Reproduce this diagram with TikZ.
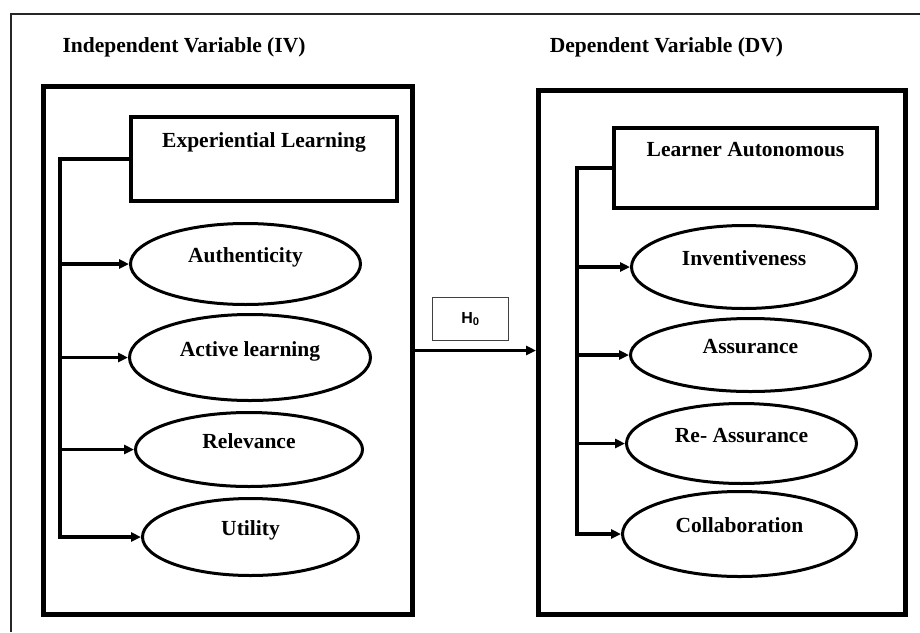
\documentclass[tikz,border=0pt]{standalone}
\usepackage{fontspec}
\setmainfont{Liberation Serif}
\newfontfamily\hzerofont{Liberation Sans}
\usetikzlibrary{arrows.meta,positioning,shapes.geometric}

\begin{document}
\begin{tikzpicture}[
    x=1pt,y=-1pt,
    title/.style={font=\fontsize{21.5}{24}\selectfont\bfseries},
    frame/.style={draw=black!85,line width=1.2pt},
    varbox/.style={draw,line width=5pt},
    headbox/.style={draw,line width=4pt,font=\fontsize{21.5}{24}\selectfont\bfseries,
      text height=14pt,text depth=38pt,inner sep=4pt},
    oval/.style={ellipse,draw,line width=3pt,font=\fontsize{21.5}{24}\selectfont\bfseries,
      text height=14pt,text depth=17pt,inner sep=2pt},
    hyp/.style={draw=black!75,line width=1.3pt,minimum width=76pt,minimum height=43pt,
      font=\hzerofont\bfseries\fontsize{16}{18}\selectfont},
    arrow/.style={-{Triangle[length=10pt,width=9pt]},line width=3.2pt}]
    \useasboundingbox (0,0) rectangle (920,632);
    % outer frame
    \draw[frame] (11,632) |- (920,14);
    % titles
    \node[title] (ivtitle) at (184,47) {Independent Variable (IV)};
    \node[title] (dvtitle) at (666.5,47) {Dependent Variable (DV)};
    % variable boxes
    \node[varbox,minimum width=369pt,minimum height=528pt] (ivbox) at (228,350.5) {};
    \node[varbox,minimum width=367pt,minimum height=524pt] (dvbox) at (722,352.5) {};
    % independent side
    \node[headbox,minimum width=266pt,minimum height=84pt] (exp) at (264,159) {Experiential Learning};
    \node[oval,minimum width=230pt,minimum height=81pt] (auth) at (245.5,264) {Authenticity};
    \node[oval,minimum width=241pt,minimum height=86pt] (act) at (250,357.5) {Active learning};
    \node[oval,minimum width=227pt,minimum height=74pt] (rel) at (249,449.5) {Relevance};
    \node[oval,minimum width=216pt,minimum height=77pt] (util) at (250.5,537) {Utility};
    % dependent side
    \node[headbox,minimum width=263pt,minimum height=80pt] (lrn) at (745.5,168) {Learner Autonomous};
    \node[oval,minimum width=225pt,minimum height=83pt] (inv) at (744,267) {Inventiveness};
    \node[oval,minimum width=240pt,minimum height=73pt] (asr) at (750.5,355) {Assurance};
    \node[oval,minimum width=230pt,minimum height=80pt] (rea) at (741.5,443.5) {Re- Assurance};
    \node[oval,minimum width=234pt,minimum height=85pt] (col) at (739.5,534) {Collaboration};
    % hypothesis
    \node[hyp] (hzero) at (470.5,319) {H\textsubscript{0}};
    % connectors
    \coordinate (ltrunk) at (60,0);
    \coordinate (rtrunk) at (577,0);
    \draw[arrow] (exp.west) -- (exp.west -| ltrunk) |- (auth.west);
    \draw[arrow] (exp.west) -- (exp.west -| ltrunk) |- (act.west);
    \draw[arrow] (exp.west) -- (exp.west -| ltrunk) |- (rel.west);
    \draw[arrow] (exp.west) -- (exp.west -| ltrunk) |- (util.west);
    \draw[arrow] (lrn.west) -- (lrn.west -| rtrunk) |- (inv.west);
    \draw[arrow] (lrn.west) -- (lrn.west -| rtrunk) |- (asr.west);
    \draw[arrow] (lrn.west) -- (lrn.west -| rtrunk) |- (rea.west);
    \draw[arrow] (lrn.west) -- (lrn.west -| rtrunk) |- (col.west);
    \draw[arrow] (ivbox.east) -- (ivbox.east -| dvbox.west);
  \end{tikzpicture}
\end{document}
